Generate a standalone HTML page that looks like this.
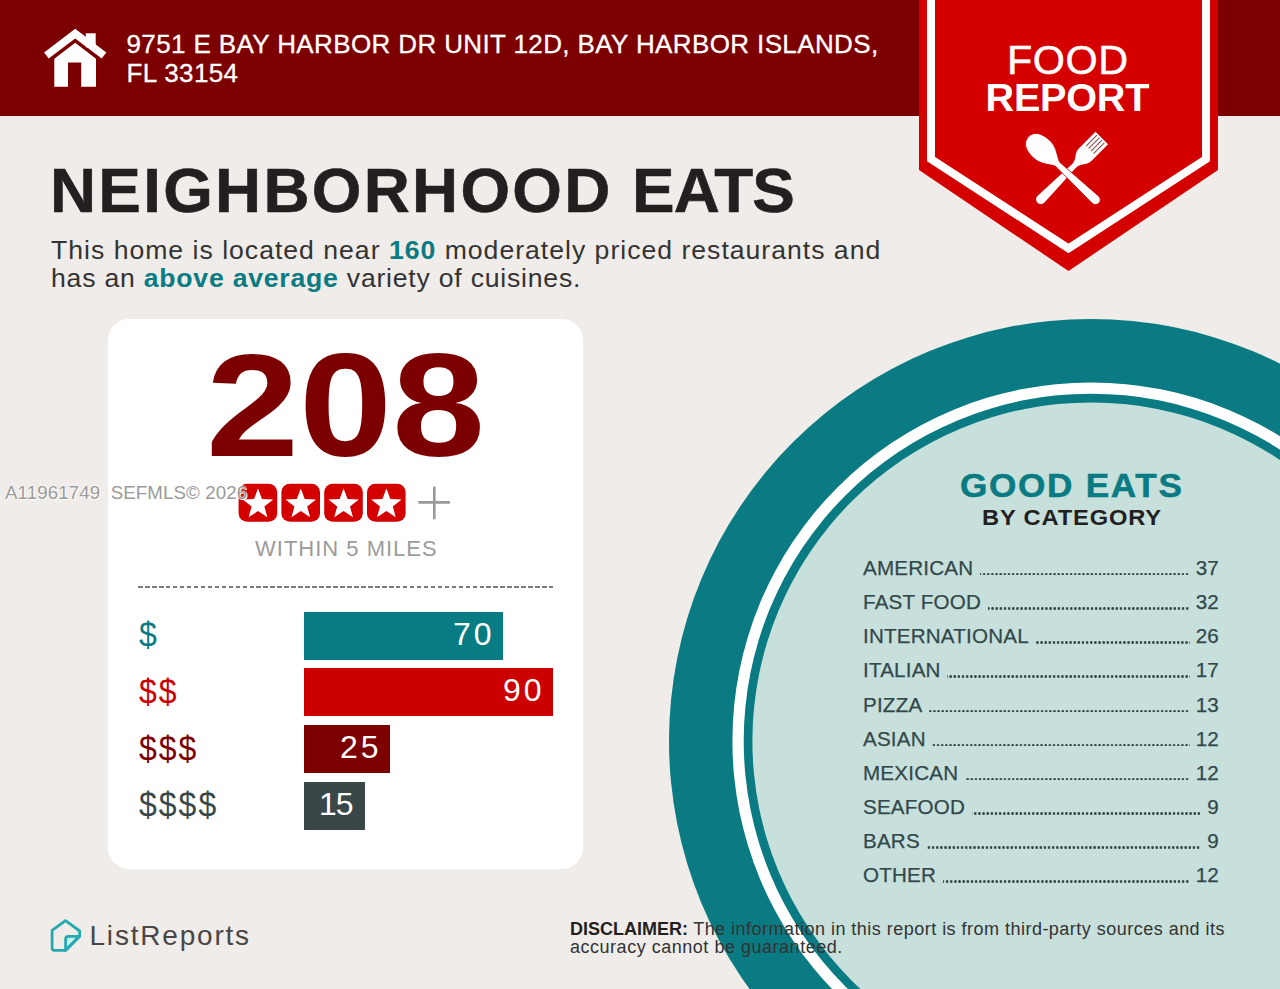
<!DOCTYPE html>
<html lang="en">
<head>
<meta charset="utf-8">
<title>Food Report - Neighborhood Eats</title>
<style>
  html, body { margin: 0; padding: 0; }
  body { width: 1280px; height: 989px; overflow: hidden; background: #f0ece9; font-family: "Liberation Sans", sans-serif; }
  #page { position: relative; width: 1280px; height: 989px; overflow: hidden; background: #f0ece9; }
  .t { position: absolute; white-space: nowrap; line-height: 1; margin: 0; padding: 0; }
  #hdr { position: absolute; left: 0; top: 0; width: 1280px; height: 116px; background: #7d0000; }
  #card { position: absolute; left: 108px; top: 319px; width: 475px; height: 550px; background: #ffffff; border-radius: 21px; }
  .bar { position: absolute; left: 304px; height: 48px; }
  .num { position: absolute; right: 8.5px; top: -2px; line-height: 48px; color: #fff; font-size: 32px; letter-spacing: 3px; }
  #list { position: absolute; left: 863px; top: 550.9px; width: 356px; color: #33484a; font-size: 20.6px; letter-spacing: 0.2px; -webkit-text-stroke: 0.25px #33484a; }
  .row { display: flex; height: 34.16px; line-height: 34.16px; white-space: nowrap; }
  .dots { flex: 1; margin: 0 6px 0 6.5px; height: 24.6px; background: radial-gradient(circle at 1.3px 1.3px, #33484a 1.05px, rgba(51,72,74,0) 1.45px) right bottom / 4.15px 2.6px repeat-x; }
  svg { position: absolute; left: 0; top: 0; }
</style>
</head>
<body>
<div id="page">

  <!-- header band -->
  <div id="hdr"></div>

  <!-- card -->
  <div id="card"></div>

  <!-- big plate circle + badge + icons -->
  <svg id="art" width="1280" height="989" viewBox="0 0 1280 989">
    <!-- plate -->
    <circle cx="1091" cy="741" r="422" fill="#0a7b82"/>
    <circle cx="1091" cy="741" r="358.6" fill="#ffffff"/>
    <circle cx="1091" cy="741" r="347.3" fill="#0a7b82"/>
    <circle cx="1091" cy="741" r="338.6" fill="#c7e0dc"/>

    <!-- badge -->
    <polygon points="919,0 1218,0 1218,170 1068.5,271 919,170" fill="#d40000"/>
    <polygon points="931,-10 1206,-10 1206,159.2 1068.5,248.4 931,159.2" fill="none" stroke="#ffffff" stroke-width="8" stroke-linejoin="miter"/>

    <!-- fork -->
    <g id="fork" transform="translate(1101.8,137.9) rotate(44.8)">
      <path d="M -8.85,0 L 8.85,0 L 8.85,23 C 8.85,31 3,32 2.6,39 L 4.8,86.5 A 4.8,4.8 0 0 1 -4.8,86.5 L -2.6,39 C -3,32 -8.85,31 -8.85,23 Z" fill="#ffffff"/>
      <path d="M -5.3,1.5 V 17 M -1.77,1.5 V 17 M 1.77,1.5 V 17 M 5.3,1.5 V 17" stroke="#8a4f4f" stroke-width="1.1" fill="none"/>
    </g>
    <!-- spoon -->
    <g id="spoon" transform="translate(1028.4,136.8) rotate(-46.8)">
      <path d="M 0,0 C 8.5,0 12,8 12,18 C 12,28 6,33 2.9,40 L 4.8,92 A 4.8,4.8 0 0 1 -4.8,92 L -2.9,40 C -6,33 -12,28 -12,18 C -12,8 -8.5,0 0,0 Z" fill="#ffffff" stroke="#d40000" stroke-width="0.8"/>
    </g>

    <!-- rating stars -->
    <g id="stars">
      <rect x="238.60" y="483.7" width="38.6" height="38.1" rx="8.5" ry="8.5" fill="#d40000"/>
      <polygon points="258.00,488.40 261.94,498.98 273.22,499.46 264.37,506.47 267.40,517.34 258.00,511.10 248.60,517.34 251.63,506.47 242.78,499.46 254.06,498.98" fill="#ffffff"/>
      <rect x="281.40" y="483.7" width="38.6" height="38.1" rx="8.5" ry="8.5" fill="#d40000"/>
      <polygon points="300.80,488.40 304.74,498.98 316.02,499.46 307.17,506.47 310.20,517.34 300.80,511.10 291.40,517.34 294.43,506.47 285.58,499.46 296.86,498.98" fill="#ffffff"/>
      <rect x="324.20" y="483.7" width="38.6" height="38.1" rx="8.5" ry="8.5" fill="#d40000"/>
      <polygon points="343.60,488.40 347.54,498.98 358.82,499.46 349.97,506.47 353.00,517.34 343.60,511.10 334.20,517.34 337.23,506.47 328.38,499.46 339.66,498.98" fill="#ffffff"/>
      <rect x="367.00" y="483.7" width="38.6" height="38.1" rx="8.5" ry="8.5" fill="#d40000"/>
      <polygon points="386.40,488.40 390.34,498.98 401.62,499.46 392.77,506.47 395.80,517.34 386.40,511.10 377.00,517.34 380.03,506.47 371.18,499.46 382.46,498.98" fill="#ffffff"/>
    </g>
    <path id="plus" d="M 418.4,502.4 H 449.9 M 434.3,486.4 V 519.2" stroke="#9a9a9a" stroke-width="2.6" fill="none"/>

    <!-- house icon -->
    <g id="house" fill="#ffffff">
      <polygon points="75.2,28.7 106.3,52.6 101.7,58.5 75.2,38.6 48.7,58.5 44.1,52.6"/>
      <rect x="85.8" y="33.3" width="9.9" height="14"/>
      <polygon points="75.2,42.7 96,58.7 96,86.7 81.2,86.7 81.2,62.5 68,62.5 68,86.7 54.3,86.7 54.3,58.7"/>
    </g>

    <!-- ListReports logo -->
    <g id="logo" fill="none" stroke="#25a9ae" stroke-width="2.8" stroke-linejoin="round" stroke-linecap="round">
      <path d="M 79.6,936.3 L 68.5,936.3 Q 65.6,936.3 65.6,939.3 L 65.6,950.3 Z" fill="#c3f2f2"/>
      <path d="M 65.5,920.6 L 79.7,931 L 79.6,936.3 L 65.8,950.3 L 54.5,950.3 Q 52.1,950.3 52.1,947.9 L 52.1,930.4 Z"/>
    </g>
  </svg>

  <!-- header text -->
  <div class="t" id="addr1" style="left:126.5px; top:31.2px; font-size:26px; letter-spacing:0.38px; color:#fff; -webkit-text-stroke:0.3px #fff;">9751 E BAY HARBOR DR UNIT 12D, BAY HARBOR ISLANDS,</div>
  <div class="t" id="addr2" style="left:126.5px; top:60.2px; font-size:26px; letter-spacing:0.38px; color:#fff; -webkit-text-stroke:0.3px #fff;">FL 33154</div>

  <div class="t" id="food" style="left:1006.5px; top:41px; font-size:40.2px; letter-spacing:0.6px; transform-origin:0 0; transform:scaleX(1.027); color:#fff; -webkit-text-stroke:0.5px #fff;">FOOD</div>
  <div class="t" id="report" style="left:985.5px; top:78.3px; font-size:39.6px; letter-spacing:-0.2px; color:#fff; font-weight:bold;">REPORT</div>

  <!-- title -->
  <div class="t" id="title" style="left:50px; top:159px; font-size:63.8px; letter-spacing:1.6px; -webkit-text-stroke:0.6px #231f20; font-weight:bold; color:#231f20;"><span style="letter-spacing:2.28px">NEIGHBORHOOD</span> <span style="letter-spacing:-0.8px">EATS</span></div>
  <div class="t" id="sub1" style="left:51px; top:237px; font-size:26.6px; letter-spacing:1px; color:#333333;">This home is located near <b style="color:#0a7b82">160</b> moderately priced restaurants and</div>
  <div class="t" id="sub2" style="left:51px; top:265.3px; font-size:26.6px; letter-spacing:0.78px; color:#333333;">has an <b style="color:#0a7b82">above average</b> variety of cuisines.</div>

  <div class="t" id="big" style="left:206px; top:333px; font-size:146px; font-weight:bold; color:#7d0000; transform-origin:0 0; transform:scaleX(1.146);">208</div>

  <div class="t" id="within" style="left:255px; top:538px; font-size:22px; letter-spacing:1px; color:#9b9b9b;">WITHIN 5 MILES</div>

  <div id="dash" style="position:absolute; left:137.8px; top:585.7px; width:415px; height:2.4px; background:repeating-linear-gradient(90deg,#7a7a7a 0,#7a7a7a 4.6px,rgba(122,122,122,0) 4.6px,rgba(122,122,122,0) 6.97px);"></div>

  <div class="t" id="d1" style="left:139px; top:619px; transform:scaleY(1.09); font-size:32px; color:#0a7b82; letter-spacing:2px;">$</div>
  <div class="t" id="d2" style="left:139px; top:676px; transform:scaleY(1.09); font-size:32px; color:#cc0000; letter-spacing:2px;">$$</div>
  <div class="t" id="d3" style="left:139px; top:733px; transform:scaleY(1.09); font-size:32px; color:#7d0000; letter-spacing:2px;">$$$</div>
  <div class="t" id="d4" style="left:139px; top:789px; transform:scaleY(1.09); font-size:32px; color:#3a4749; letter-spacing:2px;">$$$$</div>

  <div class="bar" id="b1" style="top:612px; width:199px; background:#087c83;"><span class="num">70</span></div>
  <div class="bar" id="b2" style="top:668.3px; width:249px; background:#cc0000;"><span class="num">90</span></div>
  <div class="bar" id="b3" style="top:725px; width:86px; background:#7d0000;"><span class="num">25</span></div>
  <div class="bar" id="b4" style="top:782px; width:61px; background:#3a4749;"><span class="num"><span style="letter-spacing:-1px">1</span>5</span></div>

  <div class="t" id="wm" style="left:5px; top:484.3px; font-size:18.7px; letter-spacing:0.1px; color:#9a9a9a; text-shadow:0 0 1.5px #fff, 0 0 1.5px #fff, 1px 1px 0 #fff;">A11961749&nbsp; SEFMLS&copy; 2026</div>

  <!-- right list -->
  <div class="t" id="ge" style="left:960px; top:468.5px; font-size:33px; letter-spacing:1.6px; transform-origin:0 0; transform:scaleX(1.065); -webkit-text-stroke:0.5px #0a7b82; font-weight:bold; color:#0a7b82;">GOOD EATS</div>
  <div class="t" id="bc" style="left:982px; top:505.5px; font-size:22.8px; letter-spacing:0.8px; transform-origin:0 0; transform:scaleX(1.04); font-weight:bold; color:#231f20;">BY CATEGORY</div>

  <div id="list">
    <div class="row" id="r0"><span class="lab">AMERICAN</span><span class="dots"></span><span class="val">37</span></div>
    <div class="row" id="r1"><span class="lab">FAST FOOD</span><span class="dots"></span><span class="val">32</span></div>
    <div class="row" id="r2"><span class="lab">INTERNATIONAL</span><span class="dots"></span><span class="val">26</span></div>
    <div class="row" id="r3"><span class="lab">ITALIAN</span><span class="dots"></span><span class="val">17</span></div>
    <div class="row" id="r4"><span class="lab">PIZZA</span><span class="dots"></span><span class="val">13</span></div>
    <div class="row" id="r5"><span class="lab">ASIAN</span><span class="dots"></span><span class="val">12</span></div>
    <div class="row" id="r6"><span class="lab">MEXICAN</span><span class="dots"></span><span class="val">12</span></div>
    <div class="row" id="r7"><span class="lab">SEAFOOD</span><span class="dots"></span><span class="val">9</span></div>
    <div class="row" id="r8"><span class="lab">BARS</span><span class="dots"></span><span class="val">9</span></div>
    <div class="row" id="r9"><span class="lab">OTHER</span><span class="dots"></span><span class="val">12</span></div>
  </div>

  <!-- footer -->
  <div class="t" id="lr" style="left:89.5px; top:922px; font-size:28px; color:#4a4646; letter-spacing:1.8px;">ListReports</div>
  <div class="t" id="dis1" style="left:570px; top:919.5px; font-size:18px; letter-spacing:0.48px; color:#333;"><b style="color:#231f20; letter-spacing:0px">DISCLAIMER:</b> The information in this report is from third-party sources and its</div>
  <div class="t" id="dis2" style="left:570px; top:938px; font-size:18px; letter-spacing:0.52px; color:#333;">accuracy cannot be guaranteed.</div>

</div>
</body>
</html>
